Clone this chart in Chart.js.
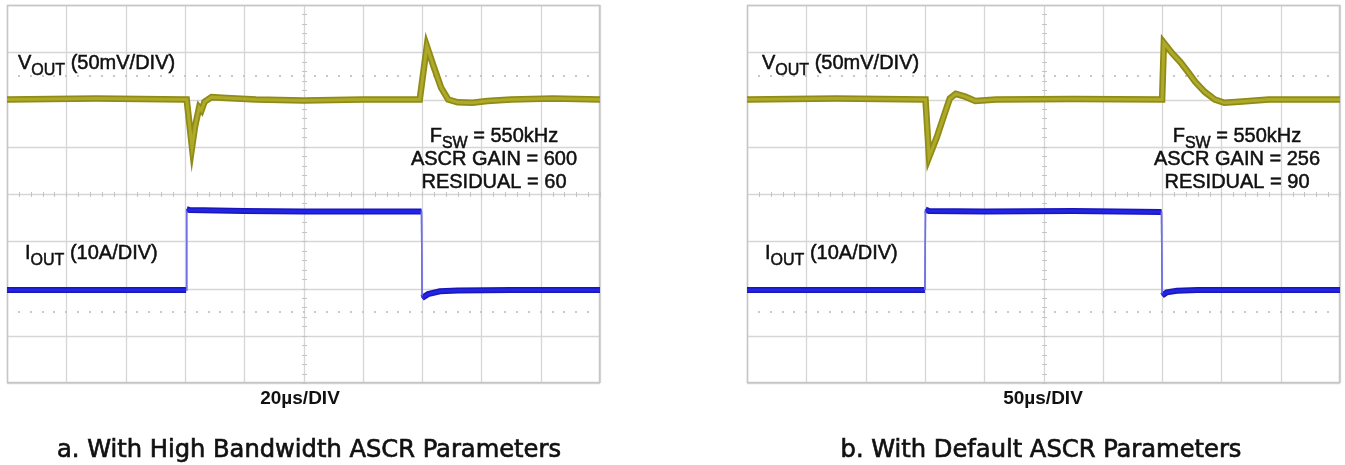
<!DOCTYPE html>
<html>
<head>
<meta charset="utf-8">
<script src="https://cdn.jsdelivr.net/npm/chart.js@4.4.1/dist/chart.umd.min.js"></script>
<style>
  html, body { margin: 0; padding: 0; background: #ffffff; }
  #wrap { position: relative; width: 1345px; height: 465px; }
  .panel { position: absolute; top: 0; height: 465px; }
  #panelA { left: 0; width: 672px; }
  #panelB { left: 672px; width: 673px; }
</style>
</head>
<body>
<div id="wrap">
  <div class="panel" id="panelA"><canvas id="scopeA"></canvas></div>
  <div class="panel" id="panelB"><canvas id="scopeB"></canvas></div>
</div>
<script>
// time in divisions (0..10), amplitude in divisions (-4..4, 0 = centre line)
var vA_t = [0, 1.5, 3.0, 3.03, 3.12, 3.17, 3.24, 3.28, 3.33, 3.45, 3.7, 4.2, 5.0, 6.0, 6.96, 7.08, 7.2, 7.32, 7.44, 7.6, 7.85, 8.1, 8.5, 9.2, 10];
var vA_y = [2.0, 2.02, 2.0, 2.0, 0.99, 1.42, 1.83, 1.77, 1.95, 2.05, 2.03, 2.0, 1.98, 2.0, 2.0, 3.13, 2.68, 2.25, 2.0, 1.94, 1.93, 1.97, 2.0, 2.02, 2.0];
var iA_t = [0, 3.02, 3.03, 3.08, 4.0, 5.0, 6.0, 6.99, 7.0, 7.1, 7.3, 7.6, 8.5, 10];
var iA_y = [-2.03, -2.03, -0.32, -0.34, -0.36, -0.37, -0.37, -0.37, -2.2, -2.12, -2.06, -2.04, -2.03, -2.03];

var vB_t = [0, 1.5, 3.0, 3.01, 3.07, 3.2, 3.32, 3.42, 3.52, 3.68, 3.85, 4.2, 5.5, 7.0, 7.03, 7.17, 7.31, 7.45, 7.56, 7.72, 7.89, 8.05, 8.3, 8.8, 10];
var vB_y = [2.0, 2.02, 2.0, 2.0, 0.78, 1.2, 1.65, 2.02, 2.12, 2.06, 1.97, 2.0, 2.01, 2.0, 3.2, 2.98, 2.79, 2.56, 2.37, 2.16, 2.0, 1.93, 1.95, 2.0, 2.0];
var iB_t = [0, 3.0, 3.01, 3.07, 4.0, 5.5, 6.99, 7.0, 7.08, 7.25, 7.6, 10];
var iB_y = [-2.03, -2.03, -0.33, -0.36, -0.37, -0.36, -0.38, -2.15, -2.08, -2.05, -2.03, -2.03];

var xDivs = [0, 10];
var yDivs = [-4, 4];

var V_COLOR = '#aeaa28';
var V_EDGE = '#8f8b18';
var I_COLOR = '#2424e6';
var I_EDGE = '#1818b8';
var STEP_COLOR = '#7070e4';
var TEXT = '#111111';
var LABEL_FONT = '"Liberation Sans", Arial, sans-serif';
var CAPTION_FONT = '"DejaVu Sans Condensed", "Liberation Sans Narrow", sans-serif';

function pts(t, y) {
    return t.map(function (v, k) { return { x: v, y: y[k] }; });
}

function isEdge(c) {
    return Math.abs(c.p1.parsed.x - c.p0.parsed.x) < 0.02;
}

// fast edges of the current trace are drawn thin, like on the scope
function stepWidth(wide) {
    return function (c) { return isEdge(c) ? 1.5 : wide; };
}
function stepColor(c) {
    return isEdge(c) ? STEP_COLOR : undefined;
}

// the scan has a slightly heavy type, so fill plus a hairline stroke
function heavyText(ctx, s, x, y) {
    ctx.fillText(s, x, y);
    ctx.strokeText(s, x, y);
}

function textWithSub(ctx, x, y, main, sub, rest, size, align) {
    var small = Math.round(size * 0.8);
    ctx.font = size + 'px ' + LABEL_FONT;
    var w1 = ctx.measureText(main).width;
    var w3 = ctx.measureText(rest).width;
    ctx.font = small + 'px ' + LABEL_FONT;
    var w2 = ctx.measureText(sub).width;
    var x0 = align === 'center' ? x - (w1 + w2 + w3) / 2 : x;
    ctx.textAlign = 'left';
    ctx.textBaseline = 'alphabetic';
    ctx.font = size + 'px ' + LABEL_FONT;
    heavyText(ctx, main, x0, y);
    ctx.font = small + 'px ' + LABEL_FONT;
    heavyText(ctx, sub, x0 + w1, y + size * 0.28);
    ctx.font = size + 'px ' + LABEL_FONT;
    heavyText(ctx, rest, x0 + w1 + w2, y);
}

var scopePlugin = {
    id: 'scope',
    beforeDatasetsDraw: function (chart) {
        var ctx = chart.ctx, xs = chart.scales.x, ys = chart.scales.y;
        var a = chart.chartArea;
        ctx.save();
        ctx.strokeStyle = '#d6d6d6';
        ctx.lineWidth = 1.3;
        for (var i = xDivs[0]; i <= xDivs[1]; i++) {
            var px = Math.round(xs.getPixelForValue(i)) + 0.5;
            ctx.beginPath(); ctx.moveTo(px, a.top); ctx.lineTo(px, a.bottom); ctx.stroke();
        }
        for (var j = yDivs[0]; j <= yDivs[1]; j++) {
            var py = Math.round(ys.getPixelForValue(j)) + 0.5;
            ctx.beginPath(); ctx.moveTo(a.left, py); ctx.lineTo(a.right, py); ctx.stroke();
        }
        // minor ticks on the centre cross
        ctx.strokeStyle = '#c4c4c4';
        ctx.lineWidth = 1;
        var cx = Math.round(xs.getPixelForValue(5)) + 0.5;
        var cy = Math.round(ys.getPixelForValue(0)) + 0.5;
        for (var m = 0; m <= 50; m++) {
            var tx = Math.round(xs.getPixelForValue(m / 5)) + 0.5;
            ctx.beginPath(); ctx.moveTo(tx, cy - 2.5); ctx.lineTo(tx, cy + 2.5); ctx.stroke();
        }
        for (var n = -20; n <= 20; n++) {
            var ty = Math.round(ys.getPixelForValue(n / 5)) + 0.5;
            ctx.beginPath(); ctx.moveTo(cx - 2.5, ty); ctx.lineTo(cx + 2.5, ty); ctx.stroke();
        }
        // dotted marker lines at +/- 2.5 div
        ctx.fillStyle = '#c8c8c8';
        [2.5, -2.5].forEach(function (lv) {
            var dy = Math.round(ys.getPixelForValue(lv));
            for (var k = 1; k < 50; k++) {
                var dx = Math.round(xs.getPixelForValue(k / 5));
                ctx.fillRect(dx - 1, dy - 1, 2, 2);
            }
        });
        // frame
        ctx.strokeStyle = '#c6c6c6';
        ctx.lineWidth = 1.5;
        ctx.strokeRect(a.left + 0.5, a.top + 0.5, a.right - a.left - 1, a.bottom - a.top - 1);
        ctx.restore();
    },
    afterDatasetsDraw: function (chart, args, opts) {
        var ctx = chart.ctx;
        ctx.save();
        ctx.fillStyle = TEXT;
        ctx.strokeStyle = TEXT;
        ctx.lineWidth = 0.5;
        textWithSub(ctx, opts.vx, 69, 'V', 'OUT', ' (50mV/DIV)', 20, 'left');
        textWithSub(ctx, opts.ix, 259, 'I', 'OUT', ' (10A/DIV)', 20, 'left');
        textWithSub(ctx, opts.cx, 142, 'F', 'SW', ' = 550kHz', 20, 'center');
        ctx.font = '20px ' + LABEL_FONT;
        ctx.textAlign = 'center';
        heavyText(ctx, 'ASCR GAIN = ' + opts.gain, opts.cx, 165);
        heavyText(ctx, 'RESIDUAL = ' + opts.residual, opts.cx, 188);
        ctx.font = 'bold 19px ' + LABEL_FONT;
        ctx.fillText(opts.timebase, opts.tx, 404);
        // caption: condensed face stretched a little to the reference width
        ctx.translate(opts.capx, 457);
        ctx.scale(1.12, 1);
        ctx.font = '24px ' + CAPTION_FONT;
        ctx.lineWidth = 0.6;
        heavyText(ctx, opts.caption, 0, 0);
        ctx.restore();
    }
};

function makeScope(id, vData, iData, pad, textOpts) {
    return new Chart(document.getElementById(id), {
        type: 'line',
        data: {
            datasets: [
                { data: vData, borderColor: V_COLOR, borderWidth: 3, pointRadius: 0, tension: 0 },
                { data: vData, borderColor: V_EDGE, borderWidth: 6.5, pointRadius: 0, tension: 0 },
                { data: iData, borderColor: I_COLOR, borderWidth: 3, pointRadius: 0, tension: 0,
                  segment: { borderWidth: stepWidth(3), borderColor: stepColor } },
                { data: iData, borderColor: I_EDGE, borderWidth: 6, pointRadius: 0, tension: 0,
                  segment: { borderWidth: stepWidth(6), borderColor: stepColor } }
            ]
        },
        options: {
            responsive: true,
            maintainAspectRatio: false,
            animation: false,
            layout: { padding: pad },
            plugins: {
                legend: { display: false },
                tooltip: { enabled: false },
                scope: textOpts
            },
            scales: {
                x: { type: 'linear', min: xDivs[0], max: xDivs[1], display: false },
                y: { type: 'linear', min: yDivs[0], max: yDivs[1], display: false }
            }
        },
        plugins: [scopePlugin]
    });
}

makeScope('scopeA', pts(vA_t, vA_y), pts(iA_t, iA_y),
    { left: 7, top: 5, right: 72, bottom: 82 },
    { vx: 18, ix: 25, cx: 494, gain: '600', residual: '60', timebase: '20µs/DIV', tx: 300, caption: 'a. With High Bandwidth ASCR Parameters', capx: 309 });

makeScope('scopeB', pts(vB_t, vB_y), pts(iB_t, iB_y),
    { left: 75, top: 5, right: 5, bottom: 82 },
    { vx: 90, ix: 93, cx: 565, gain: '256', residual: '90', timebase: '50µs/DIV', tx: 371, caption: 'b. With Default ASCR Parameters', capx: 369 });
</script>
</body>
</html>
